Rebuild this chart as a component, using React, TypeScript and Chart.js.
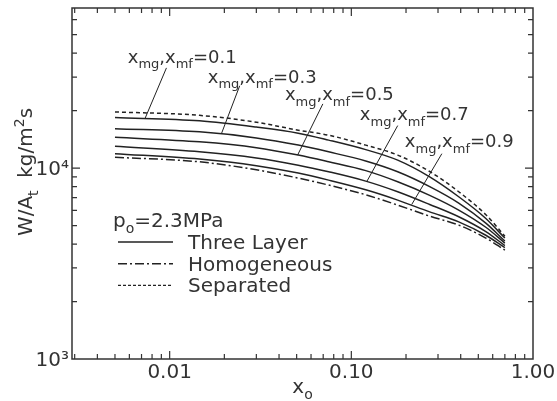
import React, { useEffect, useRef } from 'react';
import { Chart, registerables } from 'chart.js';

Chart.register(...registerables);

// ---- data ----
const xo = [0.005, 0.0146, 0.03, 0.051, 0.075, 0.12, 0.18, 0.27, 0.39, 0.55, 0.7];
const separated = [19700, 18900, 17400, 15800, 14880, 13200, 11700, 9600, 7520, 5700, 4400];
const threeLayer01 = [18400, 17690, 16400, 15240, 14020, 12500, 11010, 9000, 7080, 5450, 4300];
const threeLayer03 = [16100, 15490, 14400, 13200, 12170, 10900, 9570, 8000, 6560, 5150, 4150];
const threeLayer05 = [14500, 13730, 12800, 11700, 10790, 9700, 8480, 7200, 6030, 4900, 4050];
const threeLayer07 = [13000, 12170, 11300, 10360, 9570, 8550, 7520, 6450, 5560, 4650, 3930];
const threeLayer09 = [11900, 11150, 10300, 9420, 8650, 7700, 6800, 5900, 5230, 4450, 3830];
const homogeneous = [11400, 10790, 9800, 8870, 8150, 7250, 6400, 5600, 5030, 4300, 3720];

const xTicks = [0.01, 0.1, 1];
const xTickLabels = ['0.01', '0.10', '1.00'];
const yTicks = [1000, 10000];
const yTickLabels = ['10\u00B3', '10\u2074'];

const curveValues = ['0.1', '0.3', '0.5', '0.7', '0.9'];
// label text anchors and leader lines in data coordinates
const labelAnchorX = [0.00588, 0.0162, 0.0431, 0.1114, 0.197];
const labelAnchorY = [35500, 27900, 22700, 17800, 12880];
const leaderStartX = [0.0096, 0.0243, 0.0697, 0.18, 0.315];
const leaderStartY = [33500, 27000, 21700, 16700, 11900];
const leaderEndX = [0.0073, 0.0193, 0.0506, 0.1216, 0.215];
const leaderEndY = [18100, 15200, 11700, 8500, 6450];

const legendItems = ['Three Layer', 'Homogeneous', 'Separated'];
const pressureLabel = '=2.3MPa';

const FONT = '"DejaVu Sans", "Liberation Sans", sans-serif';
const INK = '#222';
const TEXT = '#333';

type Part = { t: string; sub?: boolean; sup?: boolean };

function drawRich(ctx: CanvasRenderingContext2D, x: number, y: number, parts: Part[], size: number, measureOnly = false): number {
  let cx = x;
  for (const p of parts) {
    const s = p.sub || p.sup ? Math.round(size * 0.72) : size;
    ctx.font = `${s}px ${FONT}`;
    const dy = p.sub ? size * 0.3 : p.sup ? -size * 0.42 : 0;
    if (!measureOnly) ctx.fillText(p.t, cx, y + dy);
    cx += ctx.measureText(p.t).width;
  }
  return cx - x;
}

const decorPlugin = {
  id: 'decor',
  beforeDraw(chart: any) {
    const ctx = chart.ctx as CanvasRenderingContext2D;
    ctx.save();
    ctx.fillStyle = '#fff';
    ctx.fillRect(0, 0, chart.width, chart.height);
    ctx.restore();
  },
  afterDraw(chart: any) {
    const ctx = chart.ctx as CanvasRenderingContext2D;
    const { left, right, top, bottom } = chart.chartArea;
    const xs = chart.scales.x;
    const ys = chart.scales.y;
    ctx.save();
    // frame
    ctx.strokeStyle = TEXT;
    ctx.lineWidth = 1.5;
    ctx.strokeRect(left, top, right - left, bottom - top);

    // inward ticks
    ctx.lineWidth = 1.2;
    const xmin = xs.min, xmax = xs.max;
    for (const d of [0.001, 0.01, 0.1, 1]) {
      for (let k = 1; k <= 9; k++) {
        const v = k * d;
        if (v <= xmin || v >= xmax) continue;
        const px = xs.getPixelForValue(v);
        const len = k === 1 ? 8 : 5;
        ctx.beginPath();
        ctx.moveTo(px, bottom); ctx.lineTo(px, bottom - len);
        ctx.moveTo(px, top); ctx.lineTo(px, top + len);
        ctx.stroke();
      }
    }
    const ymin = ys.min, ymax = ys.max;
    for (const d of [1000, 10000]) {
      for (let k = 1; k <= 9; k++) {
        const v = k * d;
        if (v <= ymin || v >= ymax) continue;
        const py = ys.getPixelForValue(v);
        const len = k === 1 ? 8 : 5;
        ctx.beginPath();
        ctx.moveTo(left, py); ctx.lineTo(left + len, py);
        ctx.moveTo(right, py); ctx.lineTo(right - len, py);
        ctx.stroke();
      }
    }

    // curve labels with leaders
    ctx.fillStyle = TEXT;
    ctx.textBaseline = 'alphabetic';
    ctx.textAlign = 'left';
    curveValues.forEach((val, i) => {
      const tx = xs.getPixelForValue(labelAnchorX[i]);
      const ty = ys.getPixelForValue(labelAnchorY[i]);
      drawRich(ctx, tx, ty, [
        { t: 'x' }, { t: 'mg', sub: true }, { t: ',x' }, { t: 'mf', sub: true }, { t: '=' + val },
      ], 18);
      ctx.strokeStyle = INK;
      ctx.lineWidth = 1;
      ctx.beginPath();
      ctx.moveTo(xs.getPixelForValue(leaderStartX[i]), ys.getPixelForValue(leaderStartY[i]));
      ctx.lineTo(xs.getPixelForValue(leaderEndX[i]), ys.getPixelForValue(leaderEndY[i]));
      ctx.stroke();
    });

    // legend
    const lx = left + 41;
    const headY = 227;
    drawRich(ctx, lx, headY, [{ t: 'p' }, { t: 'o', sub: true }, { t: pressureLabel }], 20);
    const dashes = [[], [9, 3, 2, 3], [3, 2]];
    legendItems.forEach((name, i) => {
      const cy = headY + 15 + i * 21.7;
      ctx.strokeStyle = INK;
      ctx.lineWidth = 1.4;
      ctx.setLineDash(dashes[i]);
      ctx.beginPath();
      ctx.moveTo(lx + 5, cy); ctx.lineTo(lx + 60, cy);
      ctx.stroke();
      ctx.setLineDash([]);
      ctx.font = `20px ${FONT}`;
      ctx.fillText(name, lx + 75, cy + 7);
    });

    // x axis title
    ctx.font = `20px ${FONT}`;
    const xParts: Part[] = [{ t: 'x' }, { t: 'o', sub: true }];
    const xw = drawRich(ctx, 0, 0, xParts, 20, true);
    drawRich(ctx, (left + right) / 2 - xw / 2, 393, xParts, 20);

    // y axis title
    const yParts: Part[] = [{ t: 'W/A' }, { t: 't', sub: true }, { t: '  kg/m' }, { t: '2', sup: true }, { t: 's' }];
    const yw = drawRich(ctx, 0, 0, yParts, 20, true);
    ctx.translate(32, 172);
    ctx.rotate(-Math.PI / 2);
    drawRich(ctx, -yw / 2, 0, yParts, 20);
    ctx.restore();
  },
};

export default function App() {
  const ref = useRef<HTMLCanvasElement | null>(null);
  useEffect(() => {
    if (!ref.current) return;
    const mk = (arr: number[]) => xo.map((x, i) => ({ x, y: arr[i] }));
    const base = { borderColor: INK, pointRadius: 0, borderWidth: 1.5, fill: false, cubicInterpolationMode: 'monotone' as const };
    const chart = new Chart(ref.current, {
      type: 'line',
      data: {
        datasets: [
          { ...base, label: 'Separated', data: mk(separated), borderDash: [4, 3] },
          { ...base, label: 'x=0.1', data: mk(threeLayer01) },
          { ...base, label: 'x=0.3', data: mk(threeLayer03) },
          { ...base, label: 'x=0.5', data: mk(threeLayer05) },
          { ...base, label: 'x=0.7', data: mk(threeLayer07) },
          { ...base, label: 'x=0.9', data: mk(threeLayer09) },
          { ...base, label: 'Homogeneous', data: mk(homogeneous), borderDash: [9, 3, 2, 3] },
        ],
      },
      options: {
        animation: false,
        responsive: false,
        devicePixelRatio: 1,
        layout: { padding: { top: 8, right: 24, left: 0, bottom: 0 } },
        plugins: { legend: { display: false }, tooltip: { enabled: false } },
        scales: {
          x: {
            type: 'logarithmic',
            min: 0.0029,
            max: 1,
            grid: { display: false, drawTicks: false },
            border: { display: false },
            afterBuildTicks: (s: any) => { s.ticks = xTicks.map((v) => ({ value: v })); },
            afterFit: (s: any) => { s.height = 42; s.paddingLeft = 0; s.paddingRight = 0; },
            ticks: {
              autoSkip: false,
              maxRotation: 0,
              padding: 2,
              color: TEXT,
              font: { family: FONT, size: 20 },
              callback: (_v: any, i: number) => xTickLabels[i],
            },
          },
          y: {
            type: 'logarithmic',
            min: 1000,
            max: 69000,
            grid: { display: false, drawTicks: false },
            border: { display: false },
            afterBuildTicks: (s: any) => { s.ticks = yTicks.map((v) => ({ value: v })); },
            afterFit: (s: any) => { s.width = 72; s.paddingTop = 0; s.paddingBottom = 0; },
            ticks: {
              autoSkip: false,
              padding: 3,
              labelOffset: 2,
              color: TEXT,
              font: { family: FONT, size: 20 },
              callback: (_v: any, i: number) => yTickLabels[i],
            },
          },
        },
      },
      plugins: [decorPlugin],
    } as any);
    return () => chart.destroy();
  }, []);
  return (
    <div style={{ position: 'absolute', left: 0, top: 0, width: 557, height: 401 }}>
      <canvas ref={ref} width={557} height={401} />
    </div>
  );
}
